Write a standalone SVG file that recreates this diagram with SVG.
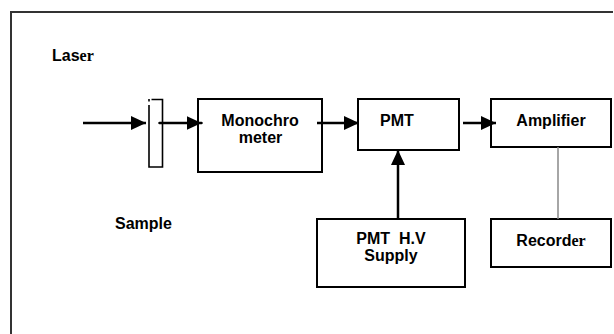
<svg xmlns="http://www.w3.org/2000/svg" width="614" height="334" viewBox="0 0 614 334">
<defs>
<style>
.box{fill:#fff;stroke:#000;stroke-width:2}
.lbl{font-family:"Liberation Sans",Arial,sans-serif;font-weight:bold;font-size:16px;fill:#000}
.ser{font-family:"Liberation Serif","Times New Roman",serif}
.arr{stroke:#000;stroke-width:2.5;fill:none}
.gray{stroke:#888;stroke-width:1.5;fill:none}
</style>
<marker id="ah" markerUnits="userSpaceOnUse" markerWidth="16" markerHeight="14" refX="15" refY="7" orient="auto">
<path d="M0,0 L15,7 L0,14 z" fill="#000"/>
</marker>
</defs>
<rect width="614" height="334" fill="#fff"/>
<path d="M11,334 V12 H613" fill="none" stroke="#333" stroke-width="2"/>
<text class="lbl" x="52" y="61">Las<tspan class="ser">er</tspan></text>
<text class="lbl" x="115" y="229">Sample</text>
<g id="sample">
<path d="M149,99 V101.5 M149,105 V167 H162.5 V99.5 H151.5" fill="none" stroke="#000" stroke-width="1.6"/>
</g>
<g id="monochromator">
<rect class="box" x="198" y="99" width="124" height="73"/>
<text class="lbl" x="260" y="126" text-anchor="middle">Monochro</text>
<text class="lbl" x="260.5" y="143" text-anchor="middle">meter</text>
</g>
<g id="pmt">
<rect class="box" x="358" y="99" width="101" height="51"/>
<text class="lbl" x="380" y="126">PMT</text>
</g>
<g id="amplifier">
<rect class="box" x="491" y="99" width="120" height="48"/>
<text class="lbl" x="551" y="126" text-anchor="middle">Amplifier</text>
</g>
<g id="hv">
<rect class="box" x="317" y="219" width="148" height="68"/>
<text class="lbl" x="391" y="244" text-anchor="middle" xml:space="preserve">PMT  H.V</text>
<text class="lbl" x="391" y="261" text-anchor="middle">Supply</text>
</g>
<g id="recorder">
<rect class="box" x="491" y="219" width="120" height="48"/>
<text class="lbl" x="551" y="246" text-anchor="middle">Record<tspan class="ser">er</tspan></text>
</g>
<g id="connectors">
<line class="arr" x1="83" y1="123" x2="146" y2="123" marker-end="url(#ah)"/>
<line class="arr" x1="159.5" y1="123" x2="201.5" y2="123" stroke-linecap="round" marker-end="url(#ah)"/>
<line class="arr" x1="317" y1="123" x2="359" y2="123" marker-end="url(#ah)"/>
<line class="arr" x1="463" y1="123" x2="496" y2="123" marker-end="url(#ah)"/>
<line class="arr" x1="398" y1="219" x2="398" y2="150" marker-end="url(#ah)"/>
<line class="gray" x1="558" y1="147" x2="558" y2="219"/>
</g>
</svg>
